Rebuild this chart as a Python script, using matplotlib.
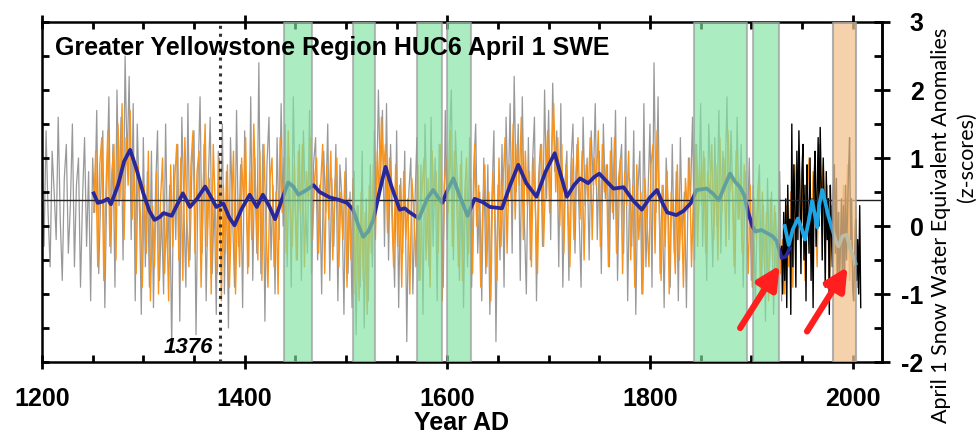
import numpy as np
import matplotlib.pyplot as plt

plt.rcParams['axes.unicode_minus'] = False

# reconstruction (gray), 2-yr samples 1200-1930
gray_years = np.arange(1200, 1931, 2)
gray_vals = [
    0.9, -0.3, 1.4, 0.2, -0.6, 1.1, 0.5, -0.2, 1.6, 0.1,
    -0.8, 0.7, 1.2, -0.4, 0.3, 1.5, -0.6, 0.6, 1.0, -0.9,
    0.4, 1.3, -0.3, 0.8, -1.1, 1.0, 0.2, 1.7, -0.7, 0.5,
    1.4, -1.2, 0.6, 1.9, -0.4, 1.2, -0.9, 2.0, 0.3, 1.6,
    -0.5, 2.5, 0.9, 2.2, -0.2, 1.8, -1.1, 1.5, 0.4, -1.3,
    1.3, -0.6, 0.8, -0.9, 1.1, -1.2, 0.5, 1.4, -0.8, 0.2,
    -1.0, 1.5, -0.4, 0.6, -1.8, 0.9, -0.2, 1.2, -1.4, 1.6,
    0.3, -0.9, 1.8, -0.5, 0.9, 1.4, -1.6, 0.7, 1.9, -0.4,
    1.2, -1.1, 0.6, 1.6, -0.7, 0.4, -1.3, 1.1, -0.2, 1.5,
    -1.0, 0.8, -1.5, 1.3, 0.2, -0.9, 1.7, -0.3, 0.9, -1.2,
    1.4, 0.1, -0.6, 1.9, -0.8, 1.0, -0.4, 2.4, -0.7, 1.2,
    -1.4, 0.9, 1.6, -0.5, 0.6, -1.0, 1.3, -0.2, 1.8, 0.0,
    1.5, -0.6, 1.0, -0.9, 1.9, 0.2, -0.5, 1.2, -0.8, 1.4,
    0.3, -0.4, 1.7, -0.7, 0.9, 1.3, -0.5, 0.6, -1.0, 1.1,
    0.2, 1.5, -0.8, 0.7, -0.3, 1.2, -1.1, 0.9, 0.4, -1.3,
    1.0, -0.7, 0.5, -1.2, 0.8, -1.6, 0.3, -0.9, 1.1, -1.5,
    0.4, -1.1, 0.9, -0.6, 1.4, 0.2, 2.0, 0.6, 1.7, -0.3,
    1.8, -0.5, 1.2, 0.1, -0.9, 1.4, -1.2, 0.7, -0.4, 1.1,
    -1.7, 0.5, 1.0, -1.0, 0.3, 1.3, -0.8, 0.9, -1.3, 1.5,
    0.2, -0.6, 1.6, -0.3, 1.0, -1.1, 1.2, 0.4, -0.9, 1.7,
    -0.2, 1.2, 2.0, -0.5, 1.4, 0.6, -0.8, 1.1, -1.2, 0.7,
    -0.6, 1.3, -0.9, 0.8, 1.5, -0.4, 0.5, -1.1, 1.0, -0.7,
    0.9, -1.3, 0.4, 1.4, -1.7, 0.6, -0.5, 1.2, -0.9, 1.6,
    0.3, 1.8, -0.4, 2.2, 0.5, 1.5, -0.8, 1.9, 0.1, -1.0,
    1.3, -0.5, 0.9, 1.6, -1.1, 0.7, 1.2, -0.3, 2.0, 0.4,
    1.7, -0.2, 2.1, 0.8, 1.4, -0.6, 1.8, -0.9, 0.6, 1.1,
    -0.8, 0.9, 1.5, -0.4, 1.2, 0.2, -0.9, 1.6, 0.3, 1.0,
    -0.5, 1.4, 0.6, 1.8, -0.2, 1.1, -0.7, 1.5, 0.4, 0.9,
    -0.6, 1.3, 0.1, 1.7, -0.8, 0.8, 1.2, -0.4, 1.6, -1.1,
    0.7, -0.3, 1.4, -1.3, 0.5, 1.1, -1.0, 1.8, -0.6, 0.4,
    1.5, -0.9, 2.4, 0.2, 1.9, -0.7, 0.6, -1.2, 1.0, 0.3,
    -0.9, 1.2, -0.4, 0.8, -1.1, 1.3, -0.2, 0.5, -1.2, 1.0,
    0.4, 1.6, -0.5, 1.2, 0.2, 1.8, -0.3, 1.0, -0.8, 1.5,
    0.6, -0.6, 1.3, 0.0, 1.7, -0.4, 1.1, 0.5, 1.9, -0.2,
    1.4, 0.3, -0.7, 1.6, 0.1, 1.2, -0.9, 0.8, -0.2, 1.0,
    -0.8, 0.6, -1.2, 0.4, 0.9, -1.0, 0.3, -1.4, 0.7, -0.6,
    0.5, -1.3, 0.2, -0.7, 0.8, -1.1,
]

# second reconstruction (orange), 2-yr samples 1251-2005
orange_years = np.arange(1251, 2006, 2)
orange_vals = [
    0.2, 1.1, -0.6, 0.9, 1.3, -0.8, 0.5, 1.4, -0.3, 0.8,
    1.2, -0.5, 1.5, 0.4, 1.8, -0.2, 1.3, 0.6, 1.7, 0.1,
    1.0, -0.7, 0.9, 0.2, -0.9, 0.6, -0.4, 1.1, -1.1, 0.3,
    -0.6, 0.8, -1.0, 0.4, 1.0, -0.7, 0.2, -1.1, 0.9, -0.3,
    0.7, 1.2, -0.5, 1.0, -0.8, 1.3, 0.1, -0.6, 0.9, 1.4,
    -0.4, 0.8, 1.1, -0.9, 0.5, 1.5, -0.3, 0.7, -1.0, 1.2,
    0.3, -0.7, 1.0, -1.1, 0.6, -0.4, 0.9, -0.9, 0.2, 1.1,
    -1.0, 0.4, -0.6, 1.0, 0.3, 1.3, -0.7, 0.8, -0.2, 1.5,
    0.4, -0.5, 1.1, -0.8, 1.2, 0.0, -0.9, 0.7, 1.0, -0.6,
    0.5, -1.0, 1.3, 0.2, 1.0, -0.4, 1.4, 0.3, -0.3, 0.9,
    -0.5, 1.1, 0.2, 1.2, -0.6, 0.8, 0.4, 1.3, -0.2, 0.7,
    1.0, -0.4, 0.6, 1.2, -0.7, 0.9, 0.1, 1.1, -0.5, 0.6,
    1.0, -0.6, 0.5, -0.2, 0.8, -0.9, 0.4, -0.5, 0.7, -1.0,
    0.3, -1.1, 0.5, -0.8, 0.2, -1.3, 0.6, -0.4, 0.9, -0.2,
    1.1, 0.4, 1.6, 0.8, 1.2, -0.1, 1.0, 0.3, -0.6, 0.9,
    -0.3, 0.6, -0.9, 0.8, -0.2, 0.4, -1.0, 0.7, 0.2, -0.6,
    0.9, -0.8, 0.5, 1.0, -0.5, 0.7, -0.9, 1.1, 0.3, 0.8,
    -0.4, 1.2, -1.1, 0.6, 1.0, 0.2, 1.4, -0.3, 1.1, 0.5,
    -0.6, 0.9, -0.8, 0.4, 1.0, -0.4, 0.7, -0.7, 1.2, 0.0,
    0.6, -0.9, 0.3, 0.9, -0.6, 0.5, -1.1, 0.8, 0.2, -0.8,
    1.0, -0.3, 0.6, 1.3, -0.4, 0.9, 0.4, 1.5, 0.1, 1.2,
    0.6, 1.6, -0.2, 1.1, 0.3, 0.8, -0.6, 1.0, 0.2, -0.7,
    0.9, 1.2, -0.3, 0.7, 1.4, 0.2, 1.1, 1.8, 0.5, 1.3,
    0.0, 1.2, -0.4, 0.9, 0.3, -0.6, 1.0, -0.2, 0.8, 1.3,
    0.1, 1.1, -0.5, 0.9, 0.4, 1.3, -0.2, 1.0, 0.6, 1.4,
    -0.3, 1.2, 0.5, 0.9, -0.6, 1.1, 0.2, 1.3, -0.4, 0.7,
    1.0, -0.7, 0.8, 0.3, 1.1, -0.5, 0.6, -0.9, 0.9, -0.2,
    0.5, -1.0, 0.7, 0.1, -0.6, 0.9, 1.2, -0.4, 1.4, 0.3,
    -0.8, 0.6, -0.3, 0.8, -1.0, 0.5, 0.1, -0.7, 0.9, -0.5,
    0.4, -0.9, 0.7, 0.2, 1.0, -0.6, 0.5, 1.2, -0.3, 0.9,
    0.3, 1.1, -0.4, 0.8, 0.4, 1.2, -0.2, 0.9, -0.5, 1.3,
    0.2, 1.0, -0.3, 1.4, 0.5, 0.8, -0.6, 1.1, 0.1, 0.7,
    -0.4, 0.9, 0.3, -0.7, 0.6, -0.9, 0.4, -0.2, 0.6, -1.0,
    0.5, -0.6, 0.2, -1.1, 0.4, -0.5, 0.3, -0.9, 0.1, -0.7,
    -0.2, -1.0, 0.3, -0.6, 0.5, -0.9, 0.9, 0.2, 1.1, -0.3,
    0.7, -0.8, 0.4, 1.0, -0.5, 0.8, 0.2, -0.6, 1.2, 0.4,
    0.9, -0.3, 0.6, -0.9, 0.3, -0.5, 0.1, -1.0, 0.2, -0.7,
    0.6, -0.4, 0.9, -0.8, 0.0, -1.1, 0.3, -0.9,
]

# observed April 1 SWE (black), annual
obs_years = np.arange(1930, 2009)
obs_vals = [
    -0.3, -1.0, 0.2, -0.8, 0.4, -1.2, 0.6, -0.4, 0.1, -1.3,
    1.5, -0.6, 0.9, 0.3, -0.9, 1.1, -0.2, 1.4, 0.5, -0.7,
    0.8, 1.2, -0.5, 0.6, -1.1, 0.9, 0.2, -0.4, 1.0, -0.8,
    0.4, -1.2, 0.7, 1.1, -0.3, 0.5, 1.3, 0.0, 1.45, 0.6,
    -0.5, 1.0, 0.3, -0.9, 0.8, -0.2, 0.4, -1.3, 0.6, -0.1,
    -0.6, 0.5, 0.9, -0.4, 0.7, -0.8, 0.2, -0.9, -0.3, 0.4,
    -0.7, 0.3, -1.0, 0.6, -0.5, 0.2, 0.8, 1.3, -0.2, 0.4,
    -0.9, -1.1, -0.4, 0.1, -0.8, -0.2, -1.0, 0.3, -1.2,
]

# smoothed reconstruction (dark blue)
smooth_years = [1251, 1255, 1260, 1265, 1268, 1275, 1281, 1287, 1293, 1300,
                1306, 1311, 1316, 1320, 1324, 1328, 1333, 1339, 1346, 1353,
                1361, 1367, 1372, 1379, 1385, 1390, 1397, 1405, 1412, 1418,
                1424, 1430, 1437, 1443, 1448, 1453, 1460, 1468, 1474, 1484,
                1494, 1501, 1507, 1512, 1517, 1522, 1527, 1533, 1539, 1545,
                1553, 1558, 1562, 1567, 1572, 1580, 1586, 1591, 1595, 1600,
                1606, 1612, 1620, 1627, 1635, 1642, 1648, 1654, 1662, 1670,
                1678, 1688, 1697, 1706, 1712, 1718, 1725, 1731, 1739, 1745,
                1750, 1757, 1764, 1774, 1783, 1792, 1800, 1807, 1812, 1817,
                1826, 1833, 1840, 1846, 1856, 1862, 1868, 1874, 1879, 1884,
                1889, 1893, 1897, 1901, 1904, 1910, 1915, 1921, 1925, 1930,
                1934, 1938]
smooth_vals = [0.48, 0.34, 0.36, 0.40, 0.32, 0.60, 0.95, 1.12, 0.85, 0.48,
               0.22, 0.09, 0.13, 0.19, 0.17, 0.15, 0.30, 0.48, 0.28, 0.40,
               0.58, 0.42, 0.28, 0.33, 0.12, 0.01, 0.25, 0.46, 0.28, 0.46,
               0.30, 0.10, 0.40, 0.64, 0.58, 0.46, 0.52, 0.60, 0.50, 0.42,
               0.38, 0.34, 0.24, 0.02, -0.16, -0.08, 0.09, 0.50, 0.87, 0.58,
               0.24, 0.26, 0.21, 0.16, 0.11, 0.40, 0.53, 0.42, 0.34, 0.52,
               0.70, 0.45, 0.15, 0.40, 0.35, 0.28, 0.27, 0.26, 0.60, 0.90,
               0.63, 0.43, 0.80, 1.07, 0.75, 0.43, 0.60, 0.70, 0.63, 0.72,
               0.77, 0.66, 0.55, 0.57, 0.38, 0.24, 0.42, 0.53, 0.35, 0.20,
               0.16, 0.22, 0.33, 0.53, 0.55, 0.48, 0.38, 0.60, 0.77, 0.65,
               0.57, 0.45, 0.20, 0.00, -0.08, -0.06, -0.10, -0.15, -0.22, -0.47,
               -0.45, -0.33]

# smoothed observations (light blue)
obs_smooth_years = [1933, 1937, 1941, 1946, 1950, 1953, 1957, 1960, 1963, 1965,
                    1967, 1970, 1973, 1976, 1980, 1984, 1986, 1990, 1994, 1998, 2003]
obs_smooth_vals = [0.0, -0.28, -0.05, 0.11, -0.05, -0.20, 0.10, 0.37, 0.15, -0.02,
                   0.30, 0.53, 0.35, 0.15, -0.05, -0.25, -0.30, -0.15, -0.13, -0.35, -0.55]

green_spans = [(1439, 1466), (1507, 1529), (1570, 1595), (1600, 1623),
               (1843, 1896), (1902, 1927)]
orange_span = (1981, 2003)
mean_level = 0.38

fig = plt.figure(figsize=(9.76, 4.36), dpi=100)
ax = fig.add_axes([42/976, 1-362/436, 840/976, 340/436])

ax.plot(gray_years, gray_vals, color='#999999', lw=0.9, zorder=1)
ax.plot(orange_years, orange_vals, color='#f7941d', lw=1.0, zorder=2)
ax.plot(obs_years, obs_vals, color='black', lw=1.0, zorder=3)
ax.axhline(mean_level, color='#222222', lw=1.0, zorder=4)
ax.plot(smooth_years, smooth_vals, color='#28289a', lw=2.7, zorder=5,
        solid_joinstyle='round')
ax.plot(obs_smooth_years, obs_smooth_vals, color='#1ea5e6', lw=2.7, zorder=5,
        solid_joinstyle='round')

for a, b in green_spans:
    ax.axvspan(a, b, facecolor='#7fe3a0', alpha=0.65, edgecolor='#999999',
               lw=1.5, zorder=6)
ax.axvspan(*orange_span, facecolor='#f2c48f', alpha=0.75, edgecolor='#999999',
           lw=1.5, zorder=6)

ax.axvline(1376, color='#333333', ls=(0, (1, 1.6)), lw=2.2, zorder=7)
ax.text(1369, -1.87, '1376', fontsize=16, fontweight='bold', style='italic',
        family='Liberation Sans', ha='right', va='baseline', zorder=8)

for tail, head in [((1889, -1.5), (1928, -0.58)), ((1955, -1.55), (1995, -0.6))]:
    ax.annotate('', xy=head, xytext=tail, zorder=9,
                arrowprops=dict(arrowstyle='-|>', color='#ff1f1f', lw=4.5,
                                mutation_scale=34, shrinkA=0, shrinkB=0))

ax.set_xlim(1200, 2029)
ax.set_ylim(-2, 3)

for s in ax.spines.values():
    s.set_linewidth(1.8)

ax.set_xticks([1200, 1400, 1600, 1800, 2000])
ax.set_xticks(np.arange(1250, 2030, 50), minor=True)
ax.tick_params(axis='x', which='major', direction='inout', length=10, width=2,
               top=True, labelsize=18, pad=13)
ax.tick_params(axis='x', which='minor', direction='in', length=5, width=2, top=True)
for lab in ax.get_xticklabels():
    lab.set_fontweight('bold')
    lab.set_family('Liberation Sans')
ax.set_xlabel('Year AD', fontsize=18, fontweight='bold', family='Liberation Sans',
              labelpad=0)

ax.set_yticks(np.arange(-2, 3.01, 0.5))
ax.tick_params(axis='y', which='major', direction='in', length=5, width=2,
               labelleft=False)

sec = ax.secondary_yaxis('right')
sec.spines['right'].set_linewidth(1.8)
sec.set_yticks([-2, -1, 0, 1, 2, 3])
sec.set_yticks(np.arange(-1.5, 3, 1), minor=True)
sec.tick_params(which='major', direction='inout', length=12, width=2,
                labelsize=18, pad=24)
sec.tick_params(which='minor', direction='in', length=6, width=2)
for lab in sec.get_yticklabels():
    lab.set_fontweight('bold')
    lab.set_family('Liberation Sans')
    lab.set_ha('right')

fig.text(55/976, 1-55/436, 'Greater Yellowstone Region HUC6 April 1 SWE',
         fontsize=18, fontweight='bold', family='Liberation Sans',
         ha='left', va='baseline', zorder=10)
fig.text(941/976, 1-225/436, 'April 1 Snow Water Equivalent Anomalies',
         fontsize=15.5, family='Lato', rotation=90, ha='center', va='center')
fig.text(967/976, 1-157/436, '(z-scores)', fontsize=15.5, family='Lato',
         rotation=90, ha='center', va='center')

fig.savefig('out.png', dpi=100)
